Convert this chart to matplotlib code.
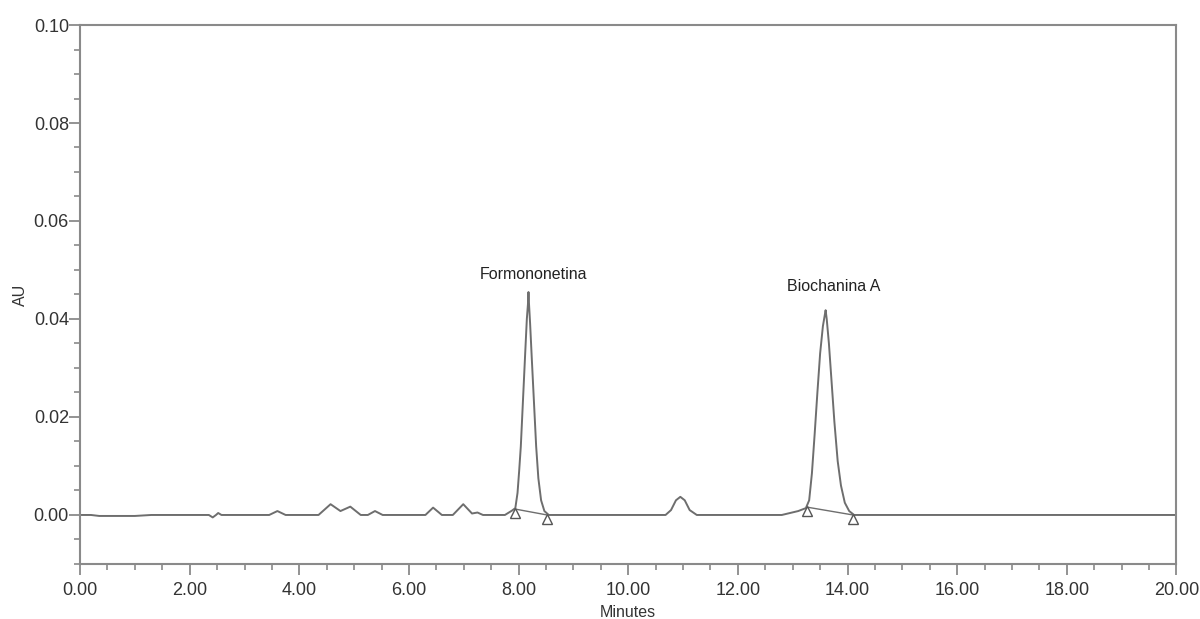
import matplotlib
matplotlib.use("Agg")
import matplotlib.pyplot as plt
from matplotlib.ticker import MultipleLocator, FormatStrFormatter

plt.rcParams['font.family'] = ['Liberation Sans', 'DejaVu Sans']

# Chromatogram trace (minutes, AU)
trace_time = [0.00, 0.20, 0.35, 1.00, 1.30, 2.35, 2.42, 2.48, 2.52, 2.58,
              3.45, 3.60, 3.75, 4.35, 4.57, 4.75, 4.93, 5.12, 5.25, 5.38,
              5.52, 6.30, 6.44, 6.60, 6.80, 6.99, 7.15, 7.25, 7.35, 7.75,
              7.88, 7.94, 7.98, 8.01, 8.04, 8.08, 8.12, 8.15, 8.17, 8.18,
              8.19, 8.21, 8.24, 8.28, 8.32, 8.36, 8.41, 8.47, 8.55,
              10.68, 10.78, 10.87, 10.95, 11.03, 11.12, 11.25, 12.80, 13.10,
              13.24, 13.30, 13.35, 13.40, 13.45, 13.50, 13.55, 13.58, 13.60, 13.62,
              13.66, 13.71, 13.76, 13.82, 13.88, 13.95, 14.03, 14.12, 20.00]
trace_au = [0.0000, 0.0000, -0.0002, -0.0002, 0.0000, 0.0000, -0.0005, 0.0000, 0.0004, 0.0000,
            0.0000, 0.0008, 0.0000, 0.0000, 0.0022, 0.0008, 0.0017, 0.0000, 0.0000, 0.0008,
            0.0000, 0.0000, 0.0015, 0.0000, 0.0000, 0.0022, 0.0003, 0.0005, 0.0000, 0.0000,
            0.0009, 0.0014, 0.0045, 0.0090, 0.0140, 0.0235, 0.0330, 0.0400, 0.0430, 0.0455,
            0.0430, 0.0390, 0.0320, 0.0230, 0.0140, 0.0075, 0.0030, 0.0008, 0.0000,
            0.0000, 0.0010, 0.0030, 0.0037, 0.0030, 0.0010, 0.0000, 0.0000, 0.0008,
            0.0014, 0.0030, 0.0085, 0.0165, 0.0250, 0.0330, 0.0385, 0.0405, 0.0418, 0.0400,
            0.0350, 0.0270, 0.0190, 0.0110, 0.0060, 0.0025, 0.0008, 0.0000, 0.0000]

# Integrated peaks: start/end of the integration baseline
peak_names = ["Formononetina", "Biochanina A"]
peak_start_t = [7.94, 13.26]
peak_start_au = [0.0012, 0.0016]
peak_end_t = [8.52, 14.10]
peak_end_au = [0.0000, 0.0000]
label_t = [8.27, 13.74]
label_au = [0.0490, 0.0467]

fig = plt.figure(figsize=(12, 6.19), dpi=100)
ax = fig.add_axes([0.0667, 0.0889, 0.9137, 0.8707])

line_col = '#6e6e6e'
spine_col = '#8a8a8a'

ax.plot(trace_time, trace_au, color=line_col, lw=1.4)

for i in range(len(peak_names)):
    ax.plot([peak_start_t[i], peak_end_t[i]], [peak_start_au[i], peak_end_au[i]],
            color=line_col, lw=1.0)
    ax.plot([peak_start_t[i], peak_end_t[i]],
            [peak_start_au[i] - 0.0008, peak_end_au[i] - 0.0008],
            ls='none', marker='^', ms=7, mfc='white', mec='#555555', mew=1.0)
    ax.text(label_t[i], label_au[i], peak_names[i], ha='center', va='center',
            fontsize=11.5, color='#222222')

ax.set_xlim(0, 20)
ax.set_ylim(-0.01, 0.10)
ax.xaxis.set_major_locator(MultipleLocator(2))
ax.xaxis.set_minor_locator(MultipleLocator(0.5))
ax.yaxis.set_major_locator(MultipleLocator(0.02))
ax.yaxis.set_minor_locator(MultipleLocator(0.005))
ax.xaxis.set_major_formatter(FormatStrFormatter('%.2f'))
ax.yaxis.set_major_formatter(FormatStrFormatter('%.2f'))

for s in ax.spines.values():
    s.set_color(spine_col)
    s.set_linewidth(1.5)

ax.tick_params(which='major', direction='out', length=8, width=1.3, color=spine_col,
               labelsize=13, labelcolor='#333333')
ax.tick_params(axis='x', which='major', pad=5)
ax.tick_params(axis='y', which='major', pad=0)
ax.tick_params(which='minor', direction='out', length=4, width=1.2, color=spine_col)

ax.set_xlabel('Minutes', fontsize=11.5, color='#333333', labelpad=4)
ax.set_ylabel('AU', fontsize=11.5, color='#333333', labelpad=4)

fig.savefig('out.png', dpi=100)
